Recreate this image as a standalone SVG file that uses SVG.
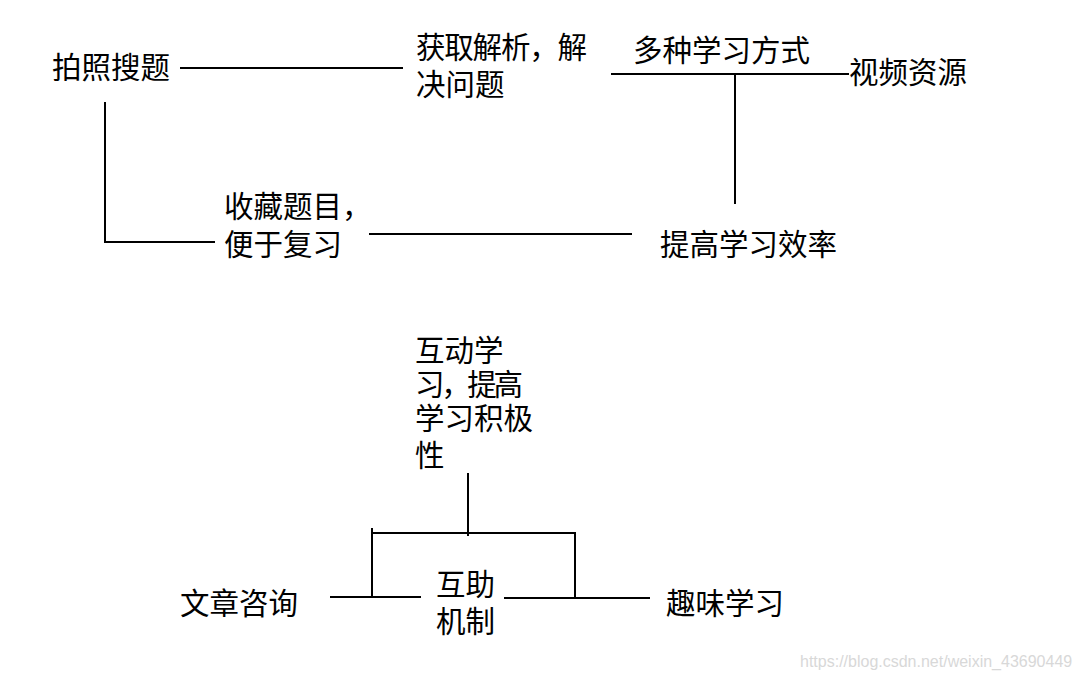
<svg xmlns="http://www.w3.org/2000/svg" width="1080" height="678" viewBox="0 0 1080 678">
<style>
text{font-family:"Noto Sans CJK SC","Liberation Sans",sans-serif;font-size:29.5px;fill:#000}
.c line{stroke:#000;stroke-width:2;fill:none}
.wm{font-family:"Liberation Sans",sans-serif;font-size:16px;fill:#d8d8d8}
</style>
<rect width="1080" height="678" fill="#fff"/>
<g class="c" id="connectors">
<line x1="180" y1="68" x2="403" y2="68"/>
<line x1="611" y1="74" x2="849" y2="74"/>
<line x1="735" y1="74" x2="735" y2="204"/>
<line x1="105" y1="102" x2="105" y2="242"/>
<line x1="104" y1="242" x2="215" y2="242"/>
<line x1="369" y1="234" x2="632" y2="234"/>
<line x1="468" y1="473" x2="468" y2="536"/>
<line x1="372" y1="533" x2="576" y2="533"/>
<line x1="372" y1="528" x2="372" y2="597"/>
<line x1="575" y1="533" x2="575" y2="598"/>
<line x1="330" y1="597" x2="421" y2="597"/>
<line x1="504" y1="598" x2="650" y2="598"/>
</g>
<g id="n1"><text x="52" y="78">拍照搜题</text></g>
<g id="n2"><text x="416" y="58"><tspan x="416" y="58" textLength="171" lengthAdjust="spacing">获取解析，解</tspan><tspan x="416" y="95">决问题</tspan></text></g>
<g id="n3"><text x="633" y="61">多种学习方式</text></g>
<g id="n4"><text x="849" y="83">视频资源</text></g>
<g id="n5"><text x="224" y="217"><tspan x="224" y="217">收藏题目，</tspan><tspan x="224" y="255">便于复习</tspan></text></g>
<g id="n6"><text x="660" y="255">提高学习效率</text></g>
<g id="n7"><text x="415" y="361"><tspan x="415" y="361">互动学</tspan><tspan x="415" y="395" textLength="108" lengthAdjust="spacing">习，提高</tspan><tspan x="415" y="429">学习积极</tspan><tspan x="415" y="466">性</tspan></text></g>
<g id="n8"><text x="180" y="614">文章咨询</text></g>
<g id="n9"><text x="436" y="595"><tspan x="436" y="595">互助</tspan><tspan x="436" y="632">机制</tspan></text></g>
<g id="n10"><text x="666" y="614">趣味学习</text></g>
<text class="wm" x="800" y="667">https://blog.csdn.net/weixin_43690449</text>
</svg>
